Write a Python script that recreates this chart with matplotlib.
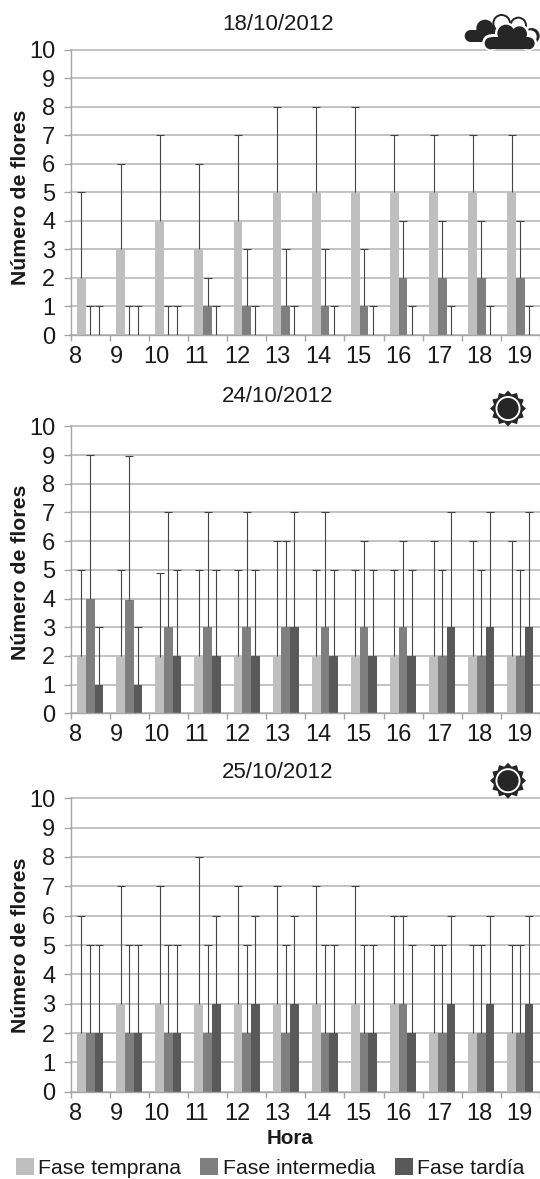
import matplotlib
matplotlib.use("Agg")
import matplotlib.pyplot as plt
import numpy as np
from matplotlib.patches import Circle, Polygon, Rectangle

plt.rcParams['font.family'] = ['Liberation Sans', 'DejaVu Sans']

horas = [8, 9, 10, 11, 12, 13, 14, 15, 16, 17, 18, 19]
fases = ['Fase temprana', 'Fase intermedia', 'Fase tardía']
fechas = ['18/10/2012', '24/10/2012', '25/10/2012']

# 18/10/2012
temprana_1 = [2, 3, 4, 3, 4, 5, 5, 5, 5, 5, 5, 5]
temprana_1_max = [5, 6, 7, 6, 7, 8, 8, 8, 7, 7, 7, 7]
intermedia_1 = [0, 0, 0, 1, 1, 1, 1, 1, 2, 2, 2, 2]
intermedia_1_max = [1, 1, 1, 2, 3, 3, 3, 3, 4, 4, 4, 4]
tardia_1 = [0, 0, 0, 0, 0, 0, 0, 0, 0, 0, 0, 0]
tardia_1_max = [1, 1, 1, 1, 1, 1, 1, 1, 1, 1, 1, 1]

# 24/10/2012
temprana_2 = [2, 2, 1.95, 2, 2, 2, 2, 2, 2, 2, 2, 2]
temprana_2_max = [5, 5, 4.9, 5, 5, 6, 5, 5, 5, 6, 6, 6]
intermedia_2 = [4, 3.95, 3, 3, 3, 3, 3, 3, 3, 2, 2, 2]
intermedia_2_max = [9, 8.95, 7, 7, 7, 6, 7, 6, 6, 5, 5, 5]
tardia_2 = [1, 1, 2, 2, 2, 3, 2, 2, 2, 3, 3, 3]
tardia_2_max = [3, 3, 5, 5, 5, 7, 5, 5, 5, 7, 7, 7]

# 25/10/2012
temprana_3 = [2, 3, 3, 3, 3, 3, 3, 3, 3, 2, 2, 2]
temprana_3_max = [6, 7, 7, 8, 7, 7, 7, 7, 6, 5, 5, 5]
intermedia_3 = [2, 2, 2, 2, 2, 2, 2, 2, 3, 2, 2, 2]
intermedia_3_max = [5, 5, 5, 5, 5, 5, 5, 5, 6, 5, 5, 5]
tardia_3 = [2, 2, 2, 3, 3, 3, 2, 2, 2, 3, 3, 3]
tardia_3_max = [5, 5, 5, 6, 6, 6, 5, 5, 5, 6, 6, 6]

paneles = [
    [(temprana_1, temprana_1_max), (intermedia_1, intermedia_1_max), (tardia_1, tardia_1_max)],
    [(temprana_2, temprana_2_max), (intermedia_2, intermedia_2_max), (tardia_2, tardia_2_max)],
    [(temprana_3, temprana_3_max), (intermedia_3, intermedia_3_max), (tardia_3, tardia_3_max)],
]

W, H = 540, 1179
colores = ['#bfbfbf', '#7f7f7f', '#595959']
gris_eje = '#a6a6a6'
texto = '#1a1a1a'
ancho = 0.222

# top and bottom of each plot area, title y, y label centre (pixels)
cajas = [(49.7, 335.0, 24, 197), (426.3, 713.3, 396, 572), (798.3, 1091.7, 773, 945)]

fig = plt.figure(figsize=(W / 100, H / 100), dpi=100)
x = np.arange(len(horas))

for panel, caja, fecha in zip(paneles, cajas, fechas):
    arriba, abajo, y_titulo, y_label = caja
    ax = fig.add_axes([70.6 / W, 1 - abajo / H, 1 - 70.6 / W, (abajo - arriba) / H])
    for j, (valores, maximos) in enumerate(panel):
        pos = x + (j - 1) * ancho
        valores = np.array(valores, dtype=float)
        sube = np.array(maximos, dtype=float) - valores
        ax.bar(pos, valores, ancho, color=colores[j], label=fases[j], zorder=2)
        _, caps, _ = ax.errorbar(pos, valores, yerr=[np.zeros(len(sube)), sube], fmt='none',
                                 ecolor='#444444', elinewidth=0.8, capsize=2.6, capthick=0.8, zorder=3)
        caps[0].set_visible(False)

    ax.set_xlim(-0.5, len(horas) - 0.5)
    ax.set_ylim(0, 10)
    ax.set_yticks(range(11))
    ax.grid(axis='y', color='#b3b3b3', linewidth=1.1, zorder=0)
    for linea in ax.get_ygridlines():
        linea.set_clip_on(False)
    ax.set_axisbelow(True)
    for lado in ['top', 'right']:
        ax.spines[lado].set_visible(False)
    for lado in ['left', 'bottom']:
        ax.spines[lado].set_color(gris_eje)
        ax.spines[lado].set_linewidth(1.0)

    # ticks sit on the bin edges, the labels drift a bit to the right of them
    ax.set_xticks(np.arange(len(horas) + 1) - 0.5)
    ax.set_xticklabels([])
    ax.set_xticks(-0.5 + 0.13 + 1.032 * x, [str(h) for h in horas], minor=True)
    ax.tick_params(axis='x', which='major', length=4, width=1.0, color=gris_eje)
    ax.tick_params(axis='x', which='minor', length=0, pad=8, labelsize=17, labelcolor=texto)
    ax.tick_params(axis='y', length=5, width=1.0, color=gris_eje, pad=6, labelsize=17, labelcolor=texto)

    fig.text(278 / W, 1 - y_titulo / H, fecha, ha='center', va='center', fontsize=16, color=texto)
    fig.text(21 / W, 1 - y_label / H, 'Número de flores', rotation=90, ha='center', va='center',
             fontsize=15.3, fontweight='bold', color=texto)

fig.text(290 / W, 1 - 1139 / H, 'Hora', ha='center', va='center', fontsize=14.8, fontweight='bold', color=texto)

handles, labels = ax.get_legend_handles_labels()
fig.legend(handles, labels, loc='lower left', bbox_to_anchor=(15.5 / W, 1.5 / H), ncols=3, frameon=False,
           fontsize=15.3, labelcolor=texto, borderpad=0, borderaxespad=0, handlelength=0.85, handleheight=0.85,
           handletextpad=0.22, columnspacing=0.9)

# weather icons, drawn in pixel coordinates on a transparent overlay
capa = fig.add_axes([0, 0, 1, 1], zorder=10)
capa.set_xlim(0, W)
capa.set_ylim(H, 0)
capa.axis('off')
capa.patch.set_alpha(0)
OSCURO = '#262626'


def sol(cx, cy):
    ang = np.linspace(0, 2 * np.pi, 24, endpoint=False) + np.pi / 2
    rad = np.where(np.arange(24) % 2 == 0, 18.0, 14.5)
    capa.add_patch(Polygon(np.c_[cx + rad * np.cos(ang), cy + rad * np.sin(ang)], color=OSCURO, lw=0))
    capa.add_patch(Circle((cx, cy), 12.5, color='white', lw=0))
    capa.add_patch(Circle((cx, cy), 10.6, color=OSCURO, lw=0))


def nube():
    def c(zx, zy, r, col):
        capa.add_patch(Circle((450 + zx / 3, zy / 3), r / 3, color=col, lw=0))

    def r(zx, zy, w, h, col):
        capa.add_patch(Rectangle((450 + zx / 3, zy / 3), w / 3, h / 3, color=col, lw=0))

    # left cloud
    c(62, 108, 18, OSCURO)
    c(105, 85, 26, OSCURO)
    c(135, 105, 24, OSCURO)
    r(62, 90, 80, 36, OSCURO)
    # outlined cloud behind
    for zx, zy, rad in [(155, 70, 28), (205, 76, 26), (245, 108, 24)]:
        c(zx, zy, rad, OSCURO)
    for zx, zy, rad in [(155, 70, 22), (205, 76, 20), (241, 110, 19)]:
        c(zx, zy, rad, 'white')
    # front cloud with a white rim
    for zx, zy, rad in [(122, 128, 25), (168, 100, 33), (208, 102, 30), (236, 128, 25)]:
        c(zx, zy, rad, 'white')
    r(122, 103, 114, 45, 'white')
    for zx, zy, rad in [(122, 130, 18), (168, 100, 26), (208, 102, 23), (236, 130, 18)]:
        c(zx, zy, rad, OSCURO)
    r(122, 112, 114, 36, OSCURO)


nube()
sol(508, 408.5)
sol(508, 780.7)

fig.savefig('out.png', dpi=100)
